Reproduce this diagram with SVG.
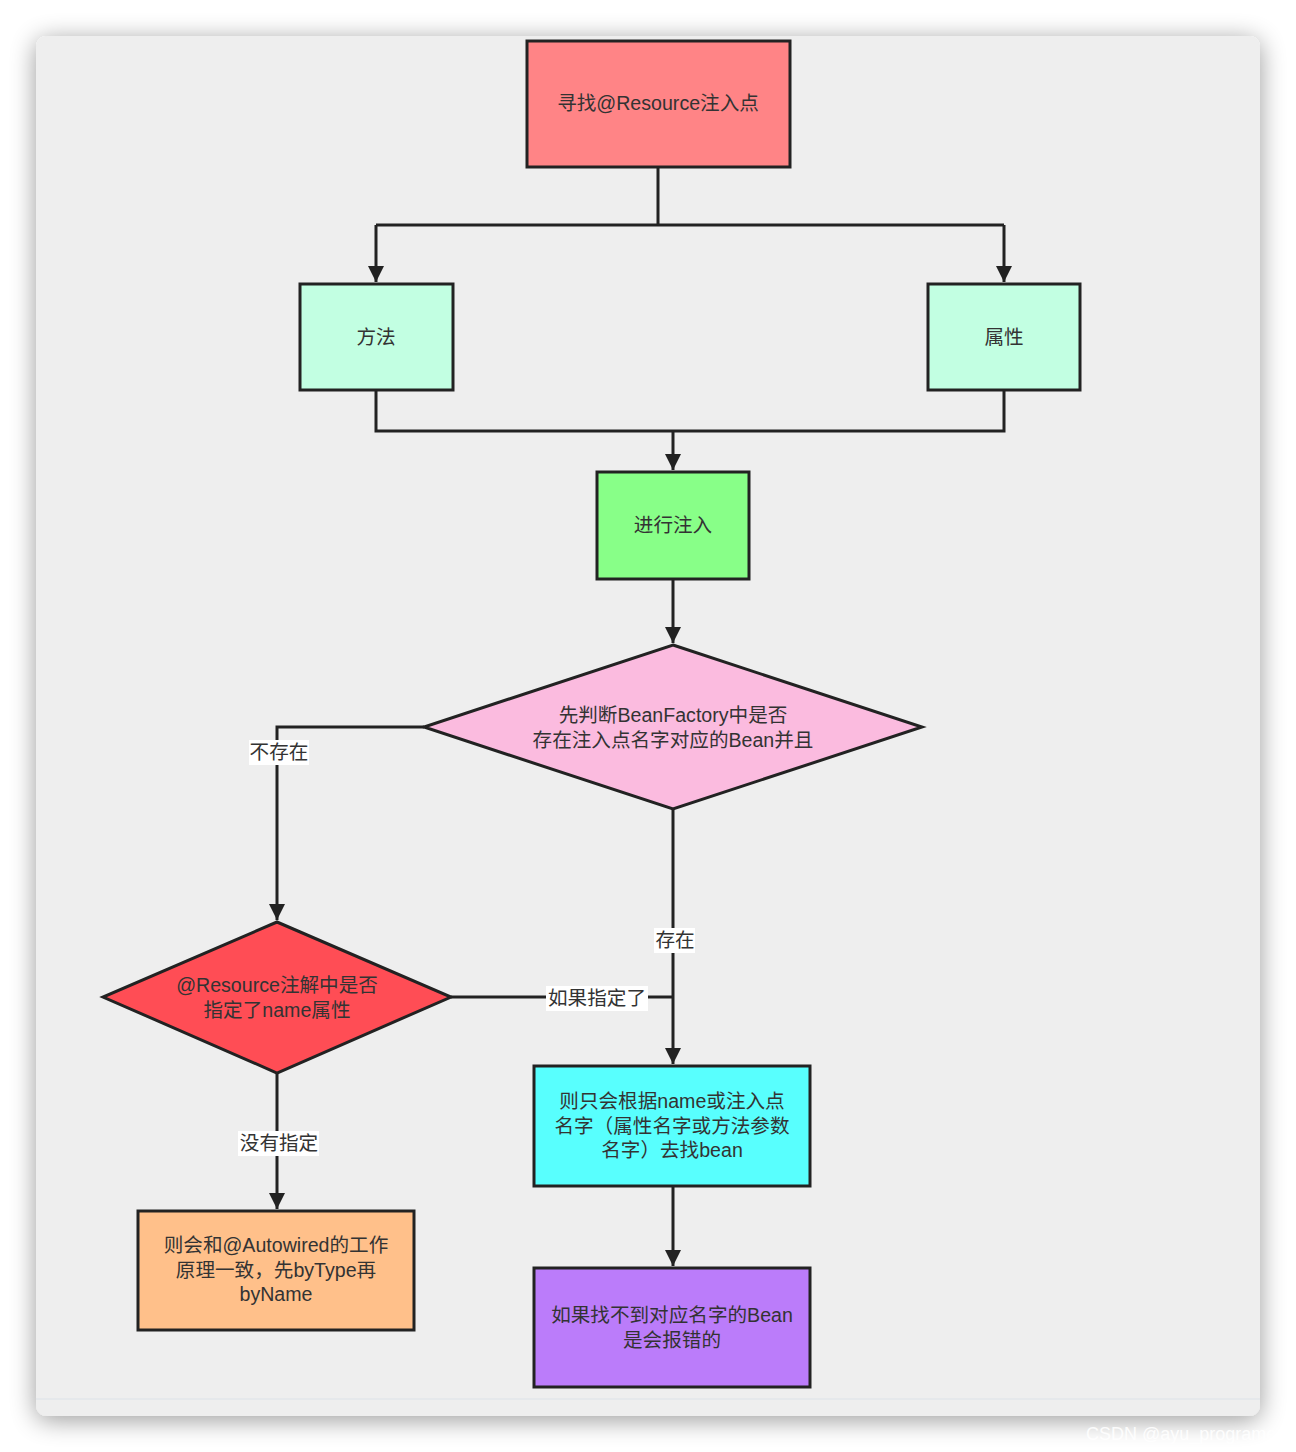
<svg xmlns="http://www.w3.org/2000/svg" width="1296" height="1452" viewBox="0 0 1296 1452">
<defs>
<filter id="sh" x="-10%" y="-10%" width="120%" height="120%">
<feGaussianBlur in="SourceAlpha" stdDeviation="13"/>
<feOffset dy="4"/>
<feComponentTransfer><feFuncA type="linear" slope="0.4"/></feComponentTransfer>
<feMerge><feMergeNode/><feMergeNode in="SourceGraphic"/></feMerge>
</filter>
<marker id="ah" viewBox="0 0 16 20" refX="16" refY="10" markerWidth="16" markerHeight="20" markerUnits="userSpaceOnUse" orient="auto">
<path d="M0,2 L16,10 L0,18 Z" fill="#222"/>
</marker>
</defs>
<style>
.n{stroke:#222;stroke-width:3}
.t{font-family:"Liberation Sans","Noto Sans CJK SC",sans-serif;font-size:19.6px;fill:#333;text-anchor:middle}
.c{fill:none;stroke:#222;stroke-width:3}
.lb{fill:#fff}
</style>
<rect width="1296" height="1452" fill="#fff"/>
<rect x="36" y="36" width="1224" height="1380" rx="11" fill="#eeeeee" filter="url(#sh)"/>
<line x1="36" y1="1399" x2="1260" y2="1399" stroke="#e2e6ea" stroke-width="1.5"/>
<text x="1086" y="1440" font-family="Liberation Sans, sans-serif" font-size="18" fill="#ffffff" fill-opacity="0.9">CSDN @ayu_programer</text>

<g id="connectors">
<path class="c" d="M658,167 V225 M376,225 H1004"/>
<path class="c" d="M376,225 V282" marker-end="url(#ah)"/>
<path class="c" d="M1004,225 V282" marker-end="url(#ah)"/>
<path class="c" d="M376,390 V431 H1004 V390"/>
<path class="c" d="M673,431 V470" marker-end="url(#ah)"/>
<path class="c" d="M673,579 V643" marker-end="url(#ah)"/>
<path class="c" d="M424,727 H277 V920" marker-end="url(#ah)"/>
<path class="c" d="M673,809 V1064" marker-end="url(#ah)"/>
<path class="c" d="M451,997 H673"/>
<path class="c" d="M277,1073 V1209" marker-end="url(#ah)"/>
<path class="c" d="M673,1186 V1266" marker-end="url(#ah)"/>
<rect class="lb" x="249" y="740" width="60" height="25"/>
<text class="t" x="279" y="759">不存在</text>
<rect class="lb" x="654" y="928" width="41" height="25"/>
<text class="t" x="675" y="947">存在</text>
<rect class="lb" x="546" y="986" width="102" height="25"/>
<text class="t" x="597" y="1005">如果指定了</text>
<rect class="lb" x="238" y="1131" width="81" height="25"/>
<text class="t" x="279" y="1150">没有指定</text>
</g>

<g id="n1">
<rect class="n" x="527" y="41" width="263" height="126" fill="#ff8486"/>
<text class="t" x="658" y="110">寻找@Resource注入点</text>
</g>
<g id="n2">
<rect class="n" x="300" y="284" width="153" height="106" fill="#c2ffe2"/>
<text class="t" x="376" y="344">方法</text>
</g>
<g id="n3">
<rect class="n" x="928" y="284" width="152" height="106" fill="#c2ffe2"/>
<text class="t" x="1004" y="344">属性</text>
</g>
<g id="n4">
<rect class="n" x="597" y="472" width="152" height="107" fill="#88ff88"/>
<text class="t" x="673" y="532">进行注入</text>
</g>
<g id="n5">
<polygon class="n" points="673,645 922,727 673,809 424,727" fill="#fbbbdf"/>
<text class="t" x="673" y="722">先判断BeanFactory中是否</text>
<text class="t" x="673" y="747">存在注入点名字对应的Bean并且</text>
</g>
<g id="n6">
<polygon class="n" points="277,922 451,997 277,1073 103,997" fill="#ff4d55"/>
<text class="t" x="277" y="992">@Resource注解中是否</text>
<text class="t" x="277" y="1017">指定了name属性</text>
</g>
<g id="n7">
<rect class="n" x="534" y="1066" width="276" height="120" fill="#58fffe"/>
<text class="t" x="672" y="1108">则只会根据name或注入点</text>
<text class="t" x="672" y="1133">名字（属性名字或方法参数</text>
<text class="t" x="672" y="1157">名字）去找bean</text>
</g>
<g id="n8">
<rect class="n" x="138" y="1211" width="276" height="119" fill="#ffc08a"/>
<text class="t" x="276" y="1252">则会和@Autowired的工作</text>
<text class="t" x="276" y="1277">原理一致，先byType再</text>
<text class="t" x="276" y="1301">byName</text>
</g>
<g id="n9">
<rect class="n" x="534" y="1268" width="276" height="119" fill="#bb7cfa"/>
<text class="t" x="672" y="1322">如果找不到对应名字的Bean</text>
<text class="t" x="672" y="1347">是会报错的</text>
</g>
</svg>
